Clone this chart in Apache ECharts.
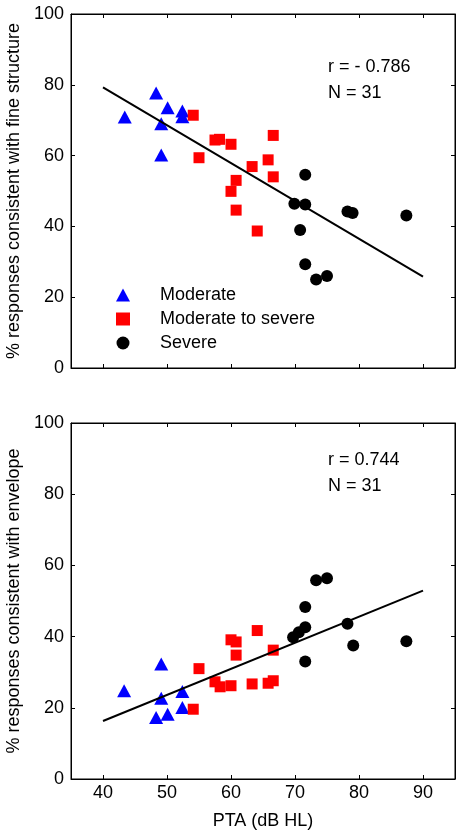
<!DOCTYPE html>
<html>
<head>
<meta charset="utf-8">
<script src="https://cdn.jsdelivr.net/npm/echarts@6/dist/echarts.min.js"></script>
<style>html,body{margin:0;padding:0;background:#fff;}#c{width:462px;height:834px;}</style>
</head>
<body>
<div id="c"></div>
<script>
var xTicks = [40, 50, 60, 70, 80, 90];
var seriesNames = ['Moderate', 'Moderate to severe', 'Severe'];

// Top panel: fine structure
var fsModX = [43.4, 48.3, 50.1, 52.4, 52.4, 49.1, 49.1];
var fsModY = [70.9, 77.7, 73.5, 72.6, 71.0, 69.0, 60.2];
var fsMsX = [54.1, 57.5, 58.2, 60.0, 66.6, 55.0, 63.3, 65.8, 66.6, 60.8, 60.0, 60.8, 64.1];
var fsMsY = [71.4, 64.4, 64.6, 63.2, 65.7, 59.4, 56.9, 58.8, 54.0, 53.0, 49.9, 44.6, 38.7];
var fsSevX = [71.6, 69.9, 71.6, 78.2, 79.0, 87.4, 70.8, 71.6, 73.3, 75.0];
var fsSevY = [54.6, 46.4, 46.2, 44.2, 43.8, 43.1, 39.0, 29.3, 25.0, 26.0];
var fsFitX = [40, 90];
var fsFitY = [79.3, 25.8];

// Bottom panel: envelope
var envModX = [43.3, 49.1, 49.1, 52.4, 48.3, 50.1, 52.4];
var envModY = [24.8, 32.3, 22.7, 24.6, 17.3, 18.2, 20.1];
var envMsX = [55.0, 54.1, 57.5, 58.3, 60.0, 60.0, 60.8, 60.8, 64.1, 63.3, 65.8, 66.6, 66.6];
var envMsY = [31.0, 19.6, 27.3, 25.9, 26.2, 39.1, 38.5, 34.8, 41.7, 26.7, 26.9, 27.6, 36.2];
var envSevX = [73.3, 75.0, 71.6, 71.6, 70.6, 69.7, 78.2, 79.1, 87.4, 71.6];
var envSevY = [55.8, 56.4, 48.3, 42.6, 41.2, 39.8, 43.6, 37.5, 38.7, 33.0];
var envFitX = [40, 90];
var envFitY = [16.3, 52.9];

var statTexts = [['r = - 0.786', 'N = 31'], ['r = 0.744', 'N = 31']];

function zip(xs, ys) { return xs.map(function (x, i) { return [x, ys[i]]; }); }

var FONT = 'Liberation Sans, Arial, Helvetica, sans-serif';
var FS = 18;

function xAxes(gi, showLabels) {
  var base = {
    type: 'value', gridIndex: gi, min: 35, max: 95,
    splitLine: { show: false },
    axisLine: { show: true, onZero: false, lineStyle: { color: '#000', width: 1 } }
  };
  var bottom = Object.assign({}, base, {
    position: 'bottom',
    axisTick: { show: true, inside: true, length: 4, customValues: xTicks, lineStyle: { color: '#000' } },
    axisLabel: { show: showLabels, customValues: xTicks, color: '#000', fontSize: FS, fontFamily: FONT, margin: 5 },
    name: showLabels ? 'PTA (dB HL)' : '',
    nameLocation: 'middle', nameGap: 33,
    nameTextStyle: { color: '#000', fontSize: FS, fontFamily: FONT }
  });
  var top = Object.assign({}, base, {
    position: 'top',
    axisTick: { show: true, inside: true, length: 4, customValues: xTicks, lineStyle: { color: '#000' } },
    axisLabel: { show: false, customValues: xTicks }
  });
  return [bottom, top];
}
function yAxes(gi, name) {
  var base = {
    type: 'value', gridIndex: gi, min: 0, max: 100, interval: 20,
    splitLine: { show: false },
    axisLine: { show: true, onZero: false, lineStyle: { color: '#000', width: 1 } },
    axisTick: { show: true, inside: true, length: 4, lineStyle: { color: '#000' } }
  };
  var left = Object.assign({}, base, {
    position: 'left',
    axisLabel: { color: '#000', fontSize: FS, fontFamily: FONT, margin: 7 },
    name: name, nameLocation: 'middle', nameGap: 46,
    nameTextStyle: { color: '#000', fontSize: FS, fontFamily: FONT }
  });
  var right = Object.assign({}, base, { position: 'right', axisLabel: { show: false } });
  return [left, right];
}

var xa = xAxes(0, false).concat(xAxes(1, true));
var ya = yAxes(0, '% responses consistent with fine structure').concat(yAxes(1, '% responses consistent with envelope'));

function scat(name, data, xi, yi) {
  var st = { 'Moderate': { symbol: 'triangle', size: [14, 13], color: '#0000ff' },
             'Moderate to severe': { symbol: 'rect', size: 11, color: '#ff0000' },
             'Severe': { symbol: 'circle', size: 12, color: '#000000' } }[name];
  return { type: 'scatter', name: name, xAxisIndex: xi, yAxisIndex: yi, data: data,
    symbol: st.symbol, symbolSize: st.size, itemStyle: { color: st.color, opacity: 1 }, z: 2,
    emphasis: { disabled: true } };
}
function fit(data, xi, yi) {
  return { type: 'line', data: data, xAxisIndex: xi, yAxisIndex: yi, showSymbol: false,
    lineStyle: { color: '#000', width: 2 }, z: 3, silent: true };
}
function frame(xi, yi) {
  // empty series so the mirrored (top/right) axes are active
  return { type: 'scatter', data: [], xAxisIndex: xi, yAxisIndex: yi, silent: true };
}

var series = [
  scat('Moderate', zip(fsModX, fsModY), 0, 0),
  scat('Moderate to severe', zip(fsMsX, fsMsY), 0, 0),
  scat('Severe', zip(fsSevX, fsSevY), 0, 0),
  fit(zip(fsFitX, fsFitY), 0, 0),
  scat('Moderate', zip(envModX, envModY), 2, 2),
  scat('Moderate to severe', zip(envMsX, envMsY), 2, 2),
  scat('Severe', zip(envSevX, envSevY), 2, 2),
  fit(zip(envFitX, envFitY), 2, 2),
  frame(1, 1),
  frame(3, 3)
];

function statGraphic(lines, top) {
  return {
    type: 'text', left: 328, top: top,
    style: { text: lines.join('\n'), font: FS + 'px ' + FONT, fill: '#000', lineHeight: 26 }
  };
}

var gridBase = { left: 71, width: 384, show: true, borderColor: '#000', borderWidth: 1,
  backgroundColor: 'transparent', containLabel: false, outerBoundsMode: 'none' };

var chart = echarts.init(document.getElementById('c'), null, { renderer: 'canvas' });
chart.setOption({
  animation: false,
  backgroundColor: '#fff',
  grid: [
    Object.assign({}, gridBase, { top: 14, height: 354 }),
    Object.assign({}, gridBase, { top: 423, height: 356 })
  ],
  xAxis: xa,
  yAxis: ya,
  legend: {
    data: [
      { name: 'Moderate', icon: 'triangle', itemStyle: { opacity: 1 } },
      { name: 'Moderate to severe', icon: 'rect', itemStyle: { opacity: 1 } },
      { name: 'Severe', icon: 'circle', itemStyle: { opacity: 1 } }
    ],
    orient: 'vertical', left: 111, top: 280, itemGap: 4,
    itemWidth: 14, itemHeight: 13,
    textStyle: { color: '#000', fontSize: FS, fontFamily: FONT, lineHeight: 20, padding: [0, 0, 0, 25] },
    selectedMode: false
  },
  graphic: [statGraphic(statTexts[0], 54), statGraphic(statTexts[1], 447)],
  series: series
});
</script>
</body>
</html>
